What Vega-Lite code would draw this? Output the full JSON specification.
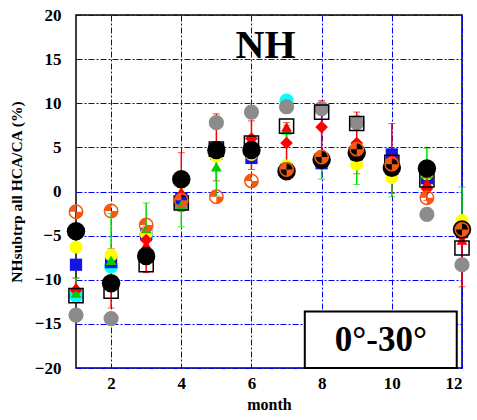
{
  "$schema": "https://vega.github.io/schema/vega-lite/v6.json",
  "width": 386,
  "height": 353,
  "autosize": "none",
  "padding": {"left": 76, "top": 15, "right": 15, "bottom": 52},
  "background": "white",
  "config": {
    "view": {"stroke": "black", "strokeWidth": 1.5},
    "font": "Liberation Serif",
    "axis": {
      "labelFont": "Liberation Serif", "labelFontWeight": "bold", "labelFontSize": 17, "labelColor": "black",
      "titleFont": "Liberation Serif", "titleFontWeight": "bold", "titleColor": "black",
      "gridColor": "#0000ff", "gridDash": [6, 2, 2, 2], "gridWidth": 1, "gridOpacity": 1,
      "ticks": false, "domain": false
    }
  },
  "data": {
    "values": [
      {"m":1,"s":"A","v":-4.5},{"m":2,"s":"A","v":-10.4},{"m":3,"s":"A","v":-7.3},{"m":4,"s":"A","v":1.4},{"m":5,"s":"A","v":4.7},{"m":6,"s":"A","v":4.7},{"m":7,"s":"A","v":2.3},{"m":8,"s":"A","v":3.6},{"m":9,"s":"A","v":4.4},{"m":10,"s":"A","v":2.7},{"m":11,"s":"A","v":2.6},{"m":12,"s":"A","v":-4.3},
      {"m":1,"s":"B","v":-14.0},{"m":2,"s":"B","v":-14.4},{"m":3,"s":"B","v":-7.5},{"m":4,"s":"B","v":-1.5},{"m":5,"s":"B","v":7.8},{"m":6,"s":"B","v":9.0},{"m":7,"s":"B","v":9.6},{"m":8,"s":"B","v":9.4},{"m":9,"s":"B","v":7.8},{"m":10,"s":"B","v":3.0},{"m":11,"s":"B","v":-2.6},{"m":12,"s":"B","v":-8.3},
      {"m":1,"s":"C","v":-11.8},{"m":2,"s":"C","v":-11.3},{"m":3,"s":"C","v":-8.3},{"m":4,"s":"C","v":-1.3},{"m":5,"s":"C","v":4.8},{"m":6,"s":"C","v":5.5},{"m":7,"s":"C","v":7.4},{"m":8,"s":"C","v":9.0},{"m":9,"s":"C","v":7.7},{"m":10,"s":"C","v":3.3},{"m":11,"s":"C","v":1.3},{"m":12,"s":"C","v":-6.4},
      {"m":1,"s":"D","v":-8.3},{"m":2,"s":"D","v":-8.0},{"m":3,"s":"D","v":-4.8},{"m":4,"s":"D","v":-0.8},{"m":5,"s":"D","v":4.3},{"m":6,"s":"D","v":3.8},{"m":7,"s":"D","v":2.5},{"m":8,"s":"D","v":3.2},{"m":9,"s":"D","v":4.2},{"m":10,"s":"D","v":4.2},{"m":11,"s":"D","v":1.5},{"m":12,"s":"D","v":-4.6},
      {"m":1,"s":"E","v":-6.3},{"m":2,"s":"E","v":-7.2},{"m":3,"s":"E","v":-4.8},{"m":4,"s":"E","v":1.0},{"m":5,"s":"E","v":4.0},{"m":6,"s":"E","v":4.2},{"m":7,"s":"E","v":2.9},{"m":8,"s":"E","v":3.8},{"m":9,"s":"E","v":3.1},{"m":10,"s":"E","v":1.6},{"m":11,"s":"E","v":2.0},{"m":12,"s":"E","v":-3.3},
      {"m":1,"s":"F","v":-11.2,"lo":-12.5,"hi":-9.8},{"m":2,"s":"F","v":-10.2,"lo":-13.2,"hi":-6.5},{"m":3,"s":"F","v":-5.5,"lo":-9.2,"hi":-4.0},{"m":4,"s":"F","v":1.0,"lo":-1.8,"hi":4.4},{"m":5,"s":"F","v":4.6,"lo":1.2,"hi":8.8},{"m":6,"s":"F","v":6.0,"lo":2.5,"hi":8.0},{"m":7,"s":"F","v":5.5,"lo":2.2,"hi":7.8},{"m":8,"s":"F","v":7.3,"lo":3.0,"hi":10.3},{"m":9,"s":"F","v":5.5,"lo":2.0,"hi":9.0},{"m":10,"s":"F","v":3.6,"lo":-0.2,"hi":7.7},{"m":11,"s":"F","v":0.3,"lo":-1.0,"hi":1.5},{"m":12,"s":"F","v":-5.0,"lo":-10.8,"hi":-4.0},
      {"m":1,"s":"G","v":-2.3},{"m":2,"s":"G","v":-2.2},{"m":3,"s":"G","v":-3.8},{"m":4,"s":"G","v":-1.0},{"m":5,"s":"G","v":-0.6},{"m":6,"s":"G","v":1.2},{"m":7,"s":"G","v":2.5},{"m":8,"s":"G","v":3.9},{"m":9,"s":"G","v":4.8},{"m":10,"s":"G","v":3.1},{"m":11,"s":"G","v":-0.7},{"m":12,"s":"G","v":-4.3},
      {"m":1,"s":"H","v":-11.5,"lo":-12.0,"hi":-9.8},{"m":2,"s":"H","v":-7.8,"lo":-10.0,"hi":-2.5},{"m":3,"s":"H","v":-4.2,"lo":-5.0,"hi":-1.3},{"m":4,"s":"H","v":-1.5,"lo":-4.0,"hi":1.0},{"m":5,"s":"H","v":2.8,"lo":-0.5,"hi":3.5},{"m":6,"s":"H","v":5.0,"lo":3.5,"hi":6.0},{"m":7,"s":"H","v":7.0,"lo":5.5,"hi":7.5},{"m":8,"s":"H","v":4.0,"lo":1.4,"hi":4.5},{"m":9,"s":"H","v":4.0,"lo":0.8,"hi":4.5},{"m":10,"s":"H","v":3.0,"lo":-0.6,"hi":3.0},{"m":11,"s":"H","v":2.0,"lo":0.3,"hi":4.9},{"m":12,"s":"H","v":-4.0,"lo":-4.0,"hi":0.5},
      {"m":1,"s":"I","v":-11.8},{"m":2,"s":"I","v":-8.5},{"m":3,"s":"I","v":-5.0},{"m":4,"s":"I","v":-1.2},{"m":5,"s":"I","v":4.7},{"m":6,"s":"I","v":4.5},{"m":7,"s":"I","v":10.3},{"m":8,"s":"I","v":3.5},{"m":9,"s":"I","v":4.4},{"m":10,"s":"I","v":2.5},{"m":11,"s":"I","v":2.0},{"m":12,"s":"I","v":-4.0},
      {"m":1,"s":"J","v":-10.8},{"m":2,"s":"J","v":-10.0},{"m":3,"s":"J","v":-6.0},{"m":4,"s":"J","v":0.0},{"m":5,"s":"J","v":4.5},{"m":6,"s":"J","v":5.9},{"m":7,"s":"J","v":7.3},{"m":8,"s":"J","v":4.0},{"m":9,"s":"J","v":4.5},{"m":10,"s":"J","v":3.0},{"m":11,"s":"J","v":1.0},{"m":12,"s":"J","v":-5.5}
    ]
  },
  "encoding": {
    "x": {
      "field": "m", "type": "quantitative",
      "scale": {"domain": [1, 12], "nice": false, "zero": false},
      "axis": {"values": [2, 4, 6, 8, 10, 12], "grid": true, "labelPadding": 7, "title": "month", "titleFontSize": 16, "titlePadding": 5}
    },
    "y": {
      "field": "v", "type": "quantitative",
      "scale": {"domain": [-20, 20], "nice": false, "zero": false},
      "axis": {"values": [-20, -15, -10, -5, 0, 5, 10, 15, 20], "grid": true, "labelPadding": 15, "title": "NHsubtrp all HCA/CA (%)", "titleFontSize": 15.5, "titlePadding": 10}
    }
  },
  "layer": [
    {
      "transform": [{"filter": "datum.s == 'F'"}],
      "mark": {"type": "errorbar", "ticks": {"size": 7, "color": "#ff0000"}, "rule": {"color": "#ff0000", "strokeWidth": 1.5}},
      "encoding": {"y": {"field": "lo", "type": "quantitative", "scale": {"domain": [-20, 20], "nice": false, "zero": false}, "title": "NHsubtrp all HCA/CA (%)"}, "y2": {"field": "hi"}}
    },
    {
      "transform": [{"filter": "datum.s == 'H'"}],
      "mark": {"type": "errorbar", "ticks": {"size": 7, "color": "#00dd00"}, "rule": {"color": "#00dd00", "strokeWidth": 1.5}},
      "encoding": {"y": {"field": "lo", "type": "quantitative", "scale": {"domain": [-20, 20], "nice": false, "zero": false}, "title": "NHsubtrp all HCA/CA (%)"}, "y2": {"field": "hi"}}
    },
    {"transform": [{"filter": "datum.s == 'I'"}], "mark": {"type": "point", "shape": "circle", "filled": true, "color": "#00ffff", "size": 200, "opacity": 1}},
    {"transform": [{"filter": "datum.s == 'B'"}], "mark": {"type": "point", "shape": "circle", "filled": true, "color": "#8c8c8c", "size": 230, "opacity": 1}},
    {"transform": [{"filter": "datum.s == 'D'"}], "mark": {"type": "point", "shape": "square", "filled": true, "color": "#1414e6", "size": 150, "opacity": 1}},
    {"transform": [{"filter": "datum.s == 'E'"}], "mark": {"type": "point", "shape": "circle", "filled": true, "color": "#ffff00", "size": 170, "opacity": 1}},
    {"transform": [{"filter": "datum.s == 'F'"}], "mark": {"type": "point", "shape": "diamond", "filled": true, "color": "#ff0000", "size": 160, "opacity": 1}},
    {"transform": [{"filter": "datum.s == 'H'"}], "mark": {"type": "point", "shape": "triangle-up", "filled": true, "color": "#00cc00", "size": 120, "opacity": 1}},
    {"transform": [{"filter": "datum.s == 'J'"}], "mark": {"type": "point", "shape": "triangle-up", "filled": true, "color": "#ff0000", "size": 120, "opacity": 1}},
    {"transform": [{"filter": "datum.s == 'C'"}], "mark": {"type": "point", "shape": "square", "filled": false, "color": "black", "strokeWidth": 1.5, "size": 200, "opacity": 1}},
    {"transform": [{"filter": "datum.s == 'A'"}], "mark": {"type": "point", "shape": "circle", "filled": true, "color": "black", "size": 340, "opacity": 1}},
    {"transform": [{"filter": "datum.s == 'G'"}], "mark": {"type": "point", "shape": "circle", "filled": false, "color": "#f25a14", "strokeWidth": 1.5, "size": 180, "opacity": 1}},
    {"transform": [{"filter": "datum.s == 'G'"}], "mark": {"type": "point", "shape": "M0,0L-1,0A1,1,0,0,1,0,-1Z M0,0L1,0A1,1,0,0,1,0,1Z", "filled": true, "color": "#f25a14", "size": 180, "opacity": 1}},
    {
      "transform": [{"filter": "datum.s == 'A' && datum.m == 1"}],
      "mark": {"type": "text", "text": "NH", "font": "Liberation Serif", "fontWeight": "bold", "fontSize": 40, "color": "black", "baseline": "middle", "align": "center"},
      "encoding": {"x": {"datum": 6.4}, "y": {"datum": 16.5}}
    },
    {
      "transform": [{"filter": "datum.s == 'A' && datum.m == 1"}],
      "mark": {"type": "rect", "fill": "white", "stroke": "black", "strokeWidth": 2},
      "encoding": {"x": {"datum": 7.52}, "x2": {"datum": 11.85}, "y": {"datum": -13.6}, "y2": {"datum": -20}}
    },
    {
      "transform": [{"filter": "datum.s == 'A' && datum.m == 1"}],
      "mark": {"type": "text", "text": "0°-30°", "font": "Liberation Serif", "fontWeight": "bold", "fontSize": 35, "color": "black", "baseline": "middle", "align": "center"},
      "encoding": {"x": {"datum": 9.69}, "y": {"datum": -16.8}}
    }
  ]
}
